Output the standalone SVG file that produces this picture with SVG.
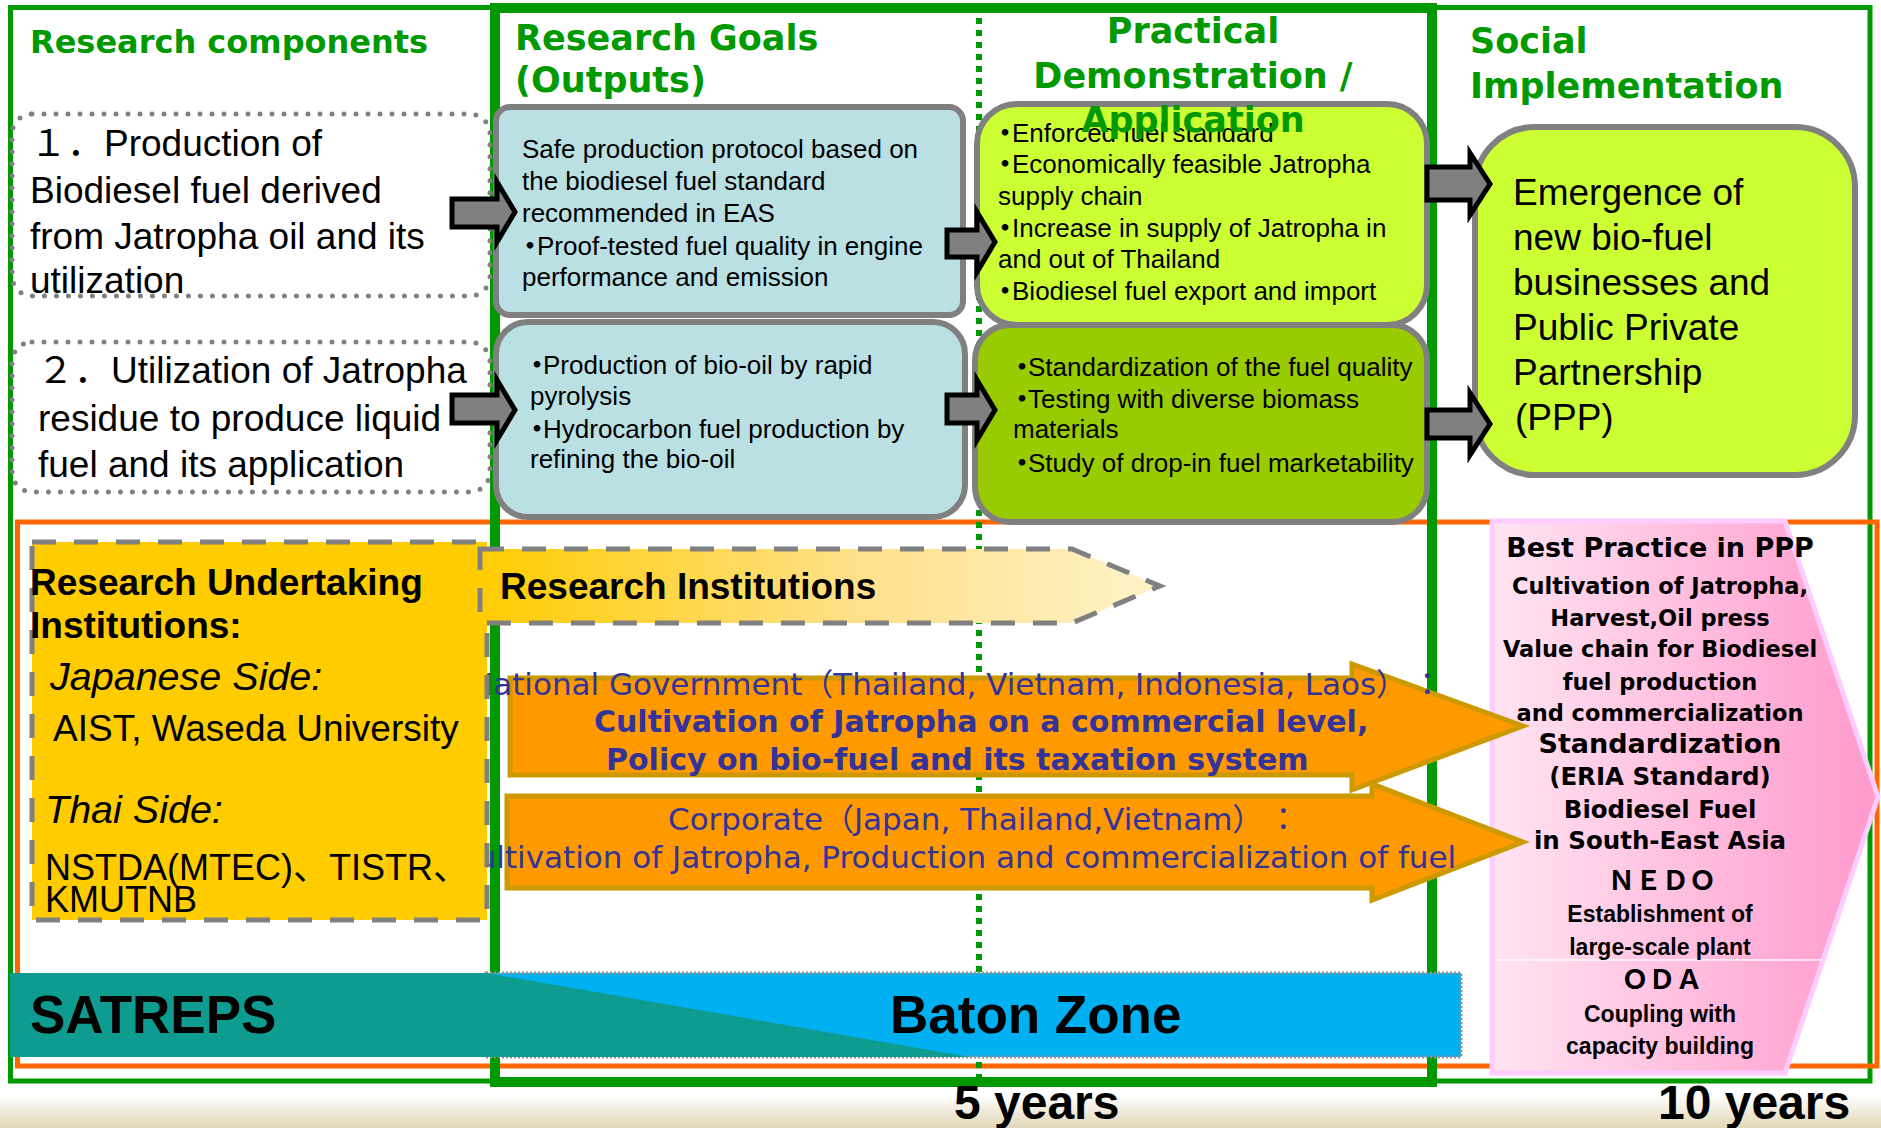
<svg xmlns="http://www.w3.org/2000/svg" width="1881" height="1128" viewBox="0 0 1881 1128">
<defs>
<linearGradient id="riGrad" x1="480" y1="0" x2="1160" y2="0" gradientUnits="userSpaceOnUse">
<stop offset="0" stop-color="#FFCC00"/><stop offset="0.55" stop-color="#FFE08A"/><stop offset="1" stop-color="#FFF3C8"/>
</linearGradient>
<linearGradient id="pinkGrad" x1="1492" y1="0" x2="1878" y2="0" gradientUnits="userSpaceOnUse">
<stop offset="0" stop-color="#FFE4F2"/><stop offset="1" stop-color="#FF99CC"/>
</linearGradient>
<linearGradient id="groundGrad" x1="0" y1="1095" x2="0" y2="1128" gradientUnits="userSpaceOnUse">
<stop offset="0" stop-color="#FFFFFF"/><stop offset="1" stop-color="#E2D6B6"/>
</linearGradient>
<style>
.hdr{font-family:"DejaVu Sans",sans-serif;font-weight:bold;fill:#009900;}
.t37{font-family:"Liberation Sans","Noto Sans CJK JP",sans-serif;font-size:37px;fill:#000;}
.t26{font-family:"Liberation Sans","Noto Sans CJK JP",sans-serif;font-size:26px;fill:#000;}
.bul{font-family:"Noto Sans CJK JP",sans-serif;font-weight:bold;}
.ora{font-family:"DejaVu Sans","Noto Sans CJK JP",sans-serif;font-size:31px;fill:#333399;}
.orab{font-family:"DejaVu Sans",sans-serif;font-size:30px;font-weight:bold;fill:#333399;}
.yb{font-family:"Liberation Sans","Noto Sans CJK JP",sans-serif;fill:#000;}
.pk{font-family:"DejaVu Sans",sans-serif;font-weight:bold;text-anchor:middle;fill:#000;}
.pk2{font-family:"Liberation Sans",sans-serif;font-weight:bold;font-size:23px;text-anchor:middle;fill:#000;}
.pkj{font-family:"Noto Sans CJK JP",sans-serif;font-weight:bold;font-size:27px;text-anchor:middle;fill:#000;}
.big{font-family:"Liberation Sans",sans-serif;font-weight:bold;fill:#000;}
.dotbox{fill:none;stroke:#808080;stroke-width:5;stroke-dasharray:0 12;stroke-linecap:round;}
.gbox{stroke:#808080;stroke-width:6;}
.garrow{fill:#808080;stroke:#000;stroke-width:5;stroke-linejoin:miter;}
.oarrow{fill:#FF9900;stroke:#CC9900;stroke-width:5;}
</style>
</defs>

<rect x="0" y="0" width="1881" height="1128" fill="#FFFFFF"/>
<rect x="0" y="1095" width="1881" height="33" fill="url(#groundGrad)"/>

<g id="frames">
<rect x="10.5" y="7.5" width="1859.5" height="1073.5" fill="none" stroke="#009900" stroke-width="5"/>
<rect x="17.5" y="522" width="1859.5" height="544" fill="none" stroke="#FF6600" stroke-width="5"/>
<rect x="495" y="8" width="937" height="1074" fill="none" stroke="#009900" stroke-width="10"/>
<line x1="979" y1="18" x2="979" y2="1078" stroke="#009900" stroke-width="6" stroke-dasharray="6 6"/>
</g>

<g id="baton-zone">
<rect x="486" y="973" width="975" height="84" fill="#00B0F0" stroke="#909090" stroke-width="3" stroke-dasharray="2 2"/>
<polygon points="10,973 486,973 970,1057 10,1057" fill="#0F9C90"/>
<text class="big" x="30" y="1033" font-size="53">SATREPS</text>
<text class="big" x="890" y="1033" font-size="53">Baton Zone</text>
</g>

<g id="best-practice">
<polygon points="1492,521 1785,521 1878,797 1785,1073 1492,1073" fill="url(#pinkGrad)" stroke="#FFCCFF" stroke-width="5"/>
<line x1="1495" y1="960" x2="1822" y2="960" stroke="#FFFFFF" stroke-width="1.5" opacity="0.85"/>
<text class="pk" x="1660" y="557" font-size="27">Best Practice in PPP</text>
<text class="pk" x="1660" y="594" font-size="22.5">Cultivation of Jatropha,</text>
<text class="pk" x="1660" y="626" font-size="22.5">Harvest,Oil press</text>
<text class="pk" x="1660" y="657" font-size="22.5">Value chain for Biodiesel</text>
<text class="pk" x="1660" y="690" font-size="22.5">fuel production</text>
<text class="pk" x="1660" y="721" font-size="22.5">and commercialization</text>
<text class="pk" x="1660" y="753" font-size="27">Standardization</text>
<text class="pk" x="1660" y="785" font-size="24.5">(ERIA Standard)</text>
<text class="pk" x="1660" y="818" font-size="24.5">Biodiesel Fuel</text>
<text class="pk" x="1660" y="849" font-size="24.5">in South-East Asia</text>
<text class="pkj" x="1662" y="890">ＮＥＤＯ</text>
<text class="pk2" x="1660" y="922">Establishment of</text>
<text class="pk2" x="1660" y="955">large-scale plant</text>
<text class="pkj" x="1662" y="989">ＯＤＡ</text>
<text class="pk2" x="1660" y="1022">Coupling with</text>
<text class="pk2" x="1660" y="1054">capacity building</text>
</g>

<g id="government-arrow">
<polygon class="oarrow" points="510,678 1352,678 1352,664 1523,726 1352,790 1352,775 510,775"/>
<text class="ora" x="470" y="695">National Government（Thailand, Vietnam, Indonesia, Laos）<tspan dx="20">：</tspan></text>
<text class="orab" x="594" y="732">Cultivation of Jatropha on a commercial level,</text>
<text class="orab" x="606" y="770">Policy on bio-fuel and its taxation system</text>
</g>

<g id="corporate-arrow">
<polygon class="oarrow" points="507,796 1372,796 1372,784 1523,842 1372,900 1372,888 507,888"/>
<text class="ora" x="668" y="830">Corporate（Japan, Thailand,Vietnam）<tspan dx="20">：</tspan></text>
<text class="ora" x="455" y="868">Cultivation of Jatropha, Production and commercialization of fuel</text>
</g>

<g id="research-undertaking">
<rect x="32" y="542" width="455" height="378" fill="#FFCC00" stroke="#808080" stroke-width="5" stroke-dasharray="24 18"/>
<text class="yb" x="30" y="595" font-size="37" font-weight="bold">Research Undertaking</text>
<text class="yb" x="30" y="638" font-size="37" font-weight="bold">Institutions:</text>
<text class="yb" x="50" y="690" font-size="39.5" font-style="italic">Japanese Side:</text>
<text class="yb" x="53" y="741" font-size="37">AIST, Waseda University</text>
<text class="yb" x="45" y="823" font-size="39.5" font-style="italic">Thai Side:</text>
<text class="yb" x="45" y="880" font-size="36">NSTDA(MTEC)、TISTR、</text>
<text class="yb" x="45" y="912" font-size="36">KMUTNB</text>
</g>

<g id="research-institutions">
<polygon points="480,549 1072,549 1160,586 1072,623 480,623" fill="url(#riGrad)" stroke="#808080" stroke-width="5" stroke-dasharray="24 18"/>
<text class="big" x="500" y="599" font-size="37">Research Institutions</text>
</g>

<g id="component-1">
<rect class="dotbox" x="12" y="114" width="478" height="182" rx="20"/>
<text class="t37" x="30" y="156">１．Production of</text>
<text class="t37" x="30" y="203">Biodiesel fuel derived</text>
<text class="t37" x="30" y="249">from Jatropha oil and its</text>
<text class="t37" x="30" y="293">utilization</text>
</g>

<g id="component-2">
<rect class="dotbox" x="12" y="342" width="478" height="150" rx="20"/>
<text class="t37" x="37" y="383">２．Utilization of Jatropha</text>
<text class="t37" x="38" y="431">residue to produce liquid</text>
<text class="t37" x="38" y="477">fuel and its application</text>
</g>

<g id="goal-1">
<rect class="gbox" x="496" y="107" width="467" height="208" rx="14" fill="#BBE0E3"/>
<text class="t26" x="522" y="158">Safe production protocol based on</text>
<text class="t26" x="522" y="190">the biodiesel fuel standard</text>
<text class="t26" x="522" y="222">recommended in EAS</text>
<text class="t26" x="517" y="255"><tspan class="bul">・</tspan><tspan dx="-6">Proof-tested fuel quality in engine</tspan></text>
<text class="t26" x="522" y="286">performance and emission</text>
</g>

<g id="goal-2">
<rect class="gbox" x="496" y="322" width="469" height="195" rx="32" fill="#BBE0E3"/>
<text class="t26" x="524" y="374"><tspan class="bul">・</tspan><tspan dx="-7">Production of bio-oil by rapid</tspan></text>
<text class="t26" x="530" y="405">pyrolysis</text>
<text class="t26" x="524" y="438"><tspan class="bul">・</tspan><tspan dx="-7">Hydrocarbon fuel production by</tspan></text>
<text class="t26" x="530" y="468">refining the bio-oil</text>
</g>

<g id="practical-1">
<rect class="gbox" x="977" y="104" width="450" height="221" rx="40" fill="#CCFF33"/>
<text class="t26" x="992" y="142"><tspan class="bul">・</tspan><tspan dx="-6">Enforced fuel standard</tspan></text>
<text class="t26" x="992" y="173"><tspan class="bul">・</tspan><tspan dx="-6">Economically feasible Jatropha</tspan></text>
<text class="t26" x="998" y="205">supply chain</text>
<text class="t26" x="992" y="237"><tspan class="bul">・</tspan><tspan dx="-6">Increase in supply of Jatropha in</tspan></text>
<text class="t26" x="998" y="268">and out of Thailand</text>
<text class="t26" x="992" y="300"><tspan class="bul">・</tspan><tspan dx="-6">Biodiesel fuel export and import</tspan></text>
</g>

<g id="practical-2">
<rect class="gbox" x="975" y="325" width="452" height="197" rx="35" fill="#99CC00"/>
<text class="t26" x="1009" y="376"><tspan class="bul">・</tspan><tspan dx="-7">Standardization of the fuel quality</tspan></text>
<text class="t26" x="1009" y="408"><tspan class="bul">・</tspan><tspan dx="-7">Testing with diverse biomass</tspan></text>
<text class="t26" x="1013" y="438">materials</text>
<text class="t26" x="1009" y="472"><tspan class="bul">・</tspan><tspan dx="-7">Study of drop-in fuel marketability</tspan></text>
</g>

<g id="social">
<rect class="gbox" x="1475" y="127" width="380" height="348" rx="60" fill="#CCFF33"/>
<text class="t37" x="1513" y="205">Emergence of</text>
<text class="t37" x="1513" y="250">new bio-fuel</text>
<text class="t37" x="1513" y="295">businesses and</text>
<text class="t37" x="1513" y="340">Public Private</text>
<text class="t37" x="1513" y="385">Partnership</text>
<text class="t37" x="1515" y="430">(PPP)</text>
</g>

<g id="connectors">
<polygon class="garrow" points="452,199 497,199 497,182 515,212 497,242 497,227 452,227"/>
<polygon class="garrow" points="452,395 497,395 497,380 515,410 497,440 497,423 452,423"/>
<polygon class="garrow" points="947,230 977,230 977,212 995,242 977,272 977,257 947,257"/>
<polygon class="garrow" points="947,395 977,395 977,380 995,410 977,440 977,423 947,423"/>
<polygon class="garrow" points="1427,167 1470,167 1470,153 1490,184 1470,215 1470,200 1427,200"/>
<polygon class="garrow" points="1427,410 1470,410 1470,393 1490,424 1470,455 1470,438 1427,438"/>
</g>

<g id="headers">
<text class="hdr" x="30" y="53" font-size="32">Research components</text>
<text class="hdr" x="515" y="50" font-size="35">Research Goals</text>
<text class="hdr" x="515" y="92" font-size="35">(Outputs)</text>
<text class="hdr" x="1193" y="43" font-size="35" text-anchor="middle">Practical</text>
<text class="hdr" x="1193" y="88" font-size="35" text-anchor="middle">Demonstration /</text>
<text class="hdr" x="1193" y="132" font-size="35" text-anchor="middle">Application</text>
<text class="hdr" x="1470" y="53" font-size="35">Social</text>
<text class="hdr" x="1470" y="98" font-size="35">Implementation</text>
</g>

<g id="timeline">
<text class="big" x="954" y="1119" font-size="48">5 years</text>
<text class="big" x="1658" y="1119" font-size="48">10 years</text>
</g>
</svg>
